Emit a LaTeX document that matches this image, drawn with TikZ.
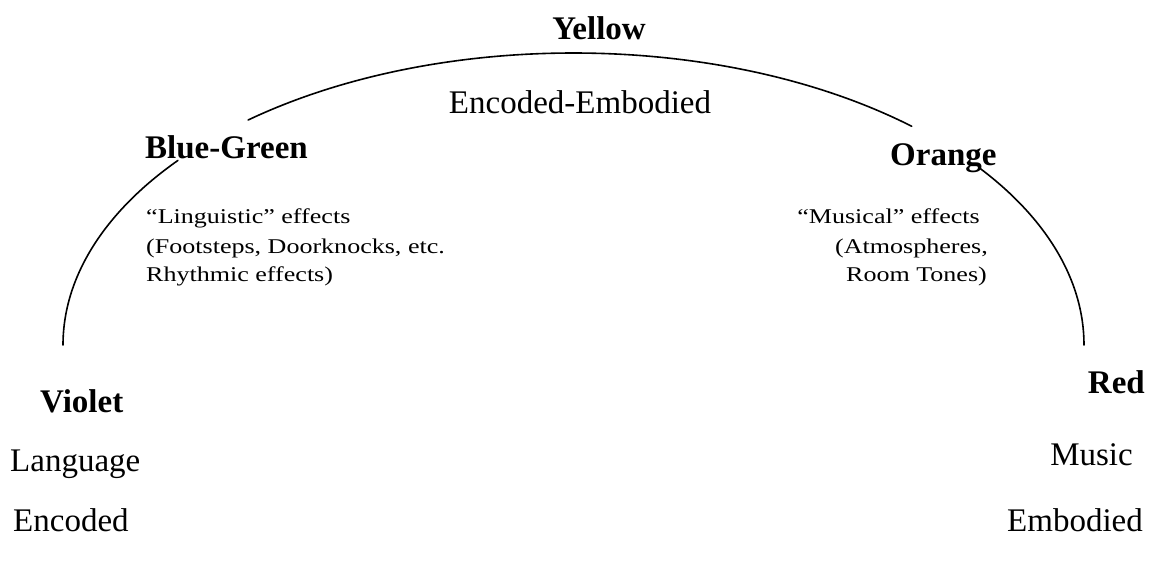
\documentclass[tikz,border=0pt]{standalone}
\usepackage{fontspec}
\setmainfont{Liberation Serif}
\newfontfamily\smallfam[FakeStretch=1.24]{Liberation Serif}
\tikzset{
  lbl/.style={inner sep=0pt, font=\fontsize{33}{38}\selectfont\bfseries},
  big/.style={inner sep=0pt, font=\fontsize{33}{38}\selectfont},
  sm/.style={inner sep=0pt, font=\smallfam\fontsize{21}{29}\selectfont},
  arcline/.style={line width=1.6pt, line cap=round}
}
\begin{document}
\begin{tikzpicture}[x=1pt,y=1pt]
\fill[white] (0,0) rectangle (1150,564);
\useasboundingbox (0,0) rectangle (1150,564);
% ellipse centre
\coordinate (c) at (573.5,219);
\path (c) ++(180:510.5 and 292) coordinate (la);
\path (c) ++(129.6:510.5 and 292) coordinate (ua);
\path (c) ++(37.2:510.5 and 292) coordinate (ra);
\draw[arcline] (la) arc[start angle=180, end angle=140.8, x radius=510.5, y radius=292];
\draw[arcline] (ua) arc[start angle=129.6, end angle=48.5, x radius=510.5, y radius=292];
\draw[arcline] (ra) arc[start angle=37.2, end angle=0, x radius=510.5, y radius=292];
% labels
\node[lbl, anchor=base] (yellow) at (599,524) {Yellow};
\node[big, anchor=base] (encemb) at (580,450) {Encoded-Embodied};
\node[lbl, anchor=base west] (bluegreen) at (145,405) {Blue-Green};
\node[lbl, anchor=base west] (orange) at (890,398) {Orange};
\node[sm, anchor=base west] (ling1) at (146,340) {“Linguistic” effects};
\node[sm, anchor=base west] (ling2) at (146,310.5) {(Footsteps, Doorknocks, etc.};
\node[sm, anchor=base west] (ling3) at (146,282) {Rhythmic effects)};
\node[sm, anchor=base east] (mus1) at (980,340) {“Musical” effects};
\node[sm, anchor=base east] (mus2) at (988,310.5) {(Atmospheres,};
\node[sm, anchor=base east] (mus3) at (987,282) {Room Tones)};
\node[lbl, anchor=base west] (violet) at (40,151) {Violet};
\node[big, anchor=base west] (language) at (10,92) {Language};
\node[big, anchor=base west] (encoded) at (13,32) {Encoded};
\node[lbl, anchor=base east] (red) at (1145,170) {Red};
\node[big, anchor=base east] (music) at (1133,98) {Music};
\node[big, anchor=base east] (embodied) at (1143,32) {Embodied};
\end{tikzpicture}
\end{document}
